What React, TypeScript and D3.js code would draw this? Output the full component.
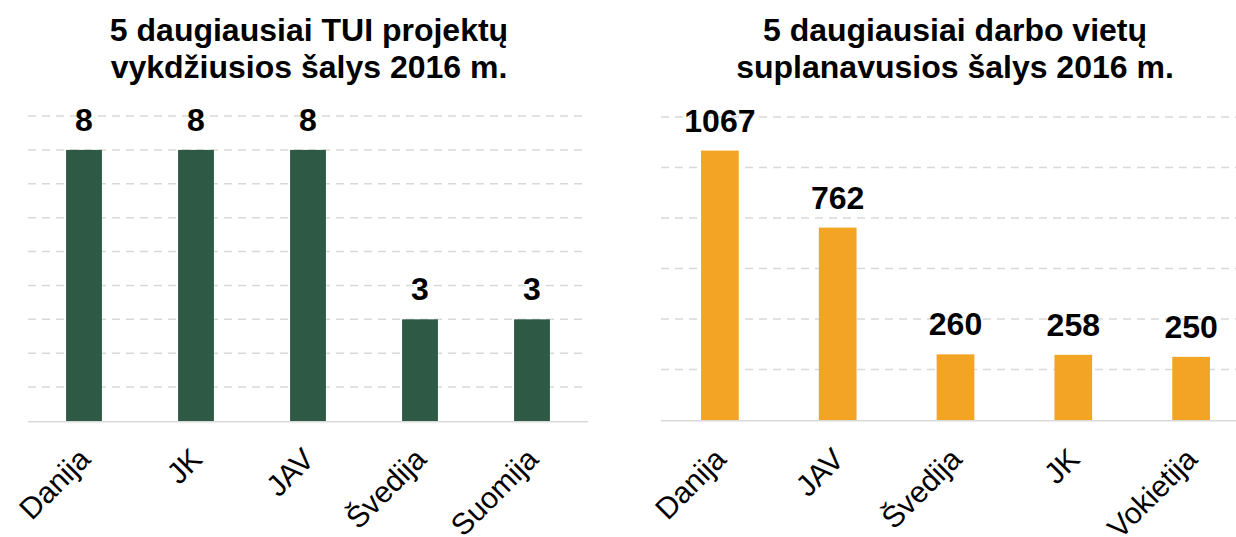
import React from "react";
import * as d3 from "d3";

const leftTitle = ["5 daugiausiai TUI projektų", "vykdžiusios šalys 2016 m."];
const leftCategories = ["Danija", "JK", "JAV", "Švedija", "Suomija"];
const leftValues = [8, 8, 8, 3, 3];
const leftTicks = [1, 2, 3, 4, 5, 6, 7, 8, 9];

const rightTitle = ["5 daugiausiai darbo vietų", "suplanavusios šalys 2016 m."];
const rightCategories = ["Danija", "JAV", "Švedija", "JK", "Vokietija"];
const rightValues = [1067, 762, 260, 258, 250];
const rightTicks = [200, 400, 600, 800, 1000, 1200];

const FONT = "'Liberation Sans', Arial, Helvetica, sans-serif";

type PanelProps = {
  title: string[];
  categories: string[];
  values: number[];
  ticks: number[];
  maxV: number;
  x0: number;
  x1: number;
  yBase: number;
  yTop: number;
  titleX: number;
  color: string;
};

function Panel(p: PanelProps) {
  const x = d3.scaleBand<string>().domain(p.categories).range([p.x0, p.x1]).paddingInner(0.68).paddingOuter(0.34);
  const y = d3.scaleLinear().domain([0, p.maxV]).range([p.yBase, p.yTop]);
  return (
    <g>
      {p.title.map((t, i) => (
        <text key={i} x={p.titleX} y={41 + i * 37} textAnchor="middle" fontFamily={FONT} fontWeight="bold" fontSize={32} fill="#000">
          {t}
        </text>
      ))}
      {p.ticks.map((t) => (
        <line key={t} x1={p.x0} x2={p.x1} y1={y(t)} y2={y(t)} stroke="#D9D9D9" strokeWidth={1.5} strokeDasharray="8,6" />
      ))}
      <line x1={p.x0} x2={p.x1} y1={y(0) + 0.75} y2={y(0) + 0.75} stroke="#D9D9D9" strokeWidth={1.5} />
      {p.categories.map((c, i) => (
        <g key={c}>
          <rect x={x(c)} y={y(p.values[i])} width={x.bandwidth()} height={y(0) - y(p.values[i])} fill={p.color} />
          <text x={(x(c) as number) + x.bandwidth() / 2} y={y(p.values[i]) - 19} textAnchor="middle" fontFamily={FONT} fontWeight="bold" fontSize={32} fill="#000">
            {p.values[i]}
          </text>
          <text
            transform={`translate(${(x(c) as number) + x.bandwidth() / 2 + 8},${461}) rotate(-45)`}
            textAnchor="end"
            fontFamily={FONT}
            fontSize={30}
            fill="#000"
          >
            {c}
          </text>
        </g>
      ))}
    </g>
  );
}

export default function App() {
  return (
    <svg width={1236} height={537} style={{ position: "absolute", left: 0, top: 0, background: "#fff" }}>
      <rect width={1236} height={537} fill="#fff" />
      <Panel title={leftTitle} categories={leftCategories} values={leftValues} ticks={leftTicks} maxV={9} x0={28} x1={588} yBase={421} yTop={116} titleX={309} color="#2E5945" />
      <Panel title={rightTitle} categories={rightCategories} values={rightValues} ticks={rightTicks} maxV={1200} x0={661} x1={1250} yBase={420} yTop={117} titleX={955} color="#F4A425" />
    </svg>
  );
}
